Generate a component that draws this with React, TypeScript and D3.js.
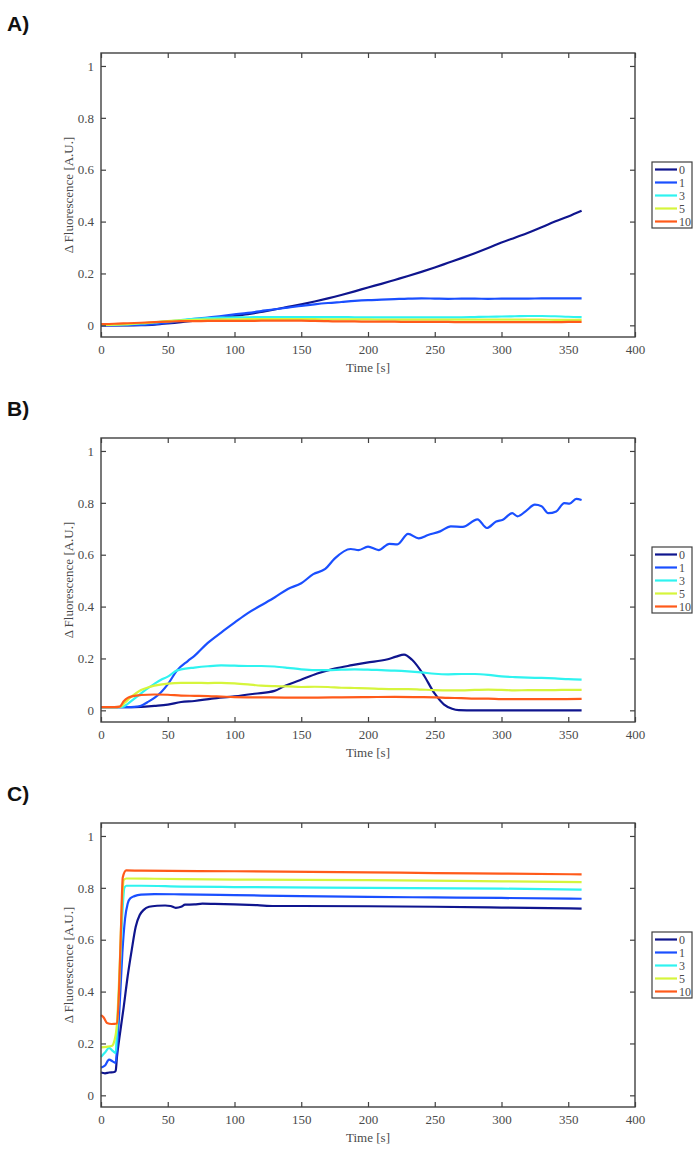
import React, { useRef, useEffect } from 'react';
import * as d3 from 'd3';

type Pt = [number, number];

// legend keys and colours (jet-like)
const seriesNames = ['0', '1', '3', '5', '10'];
const seriesColors = ['#0f158e', '#1a4fff', '#2ff3f0', '#d6f53c', '#ff5a1a'];

const panelLabels = ['A)', 'B)', 'C)'];
const xTicks = [0, 50, 100, 150, 200, 250, 300, 350, 400];
const yTicks = [0, 0.2, 0.4, 0.6, 0.8, 1];

// panel A, sampled every 10 s
const tA = d3.range(0, 361, 10);
const a0 = [0.000,0.000,0.000,0.001,0.003,0.007,0.012,0.018,0.024,0.030,0.036,0.043,0.052,0.061,0.071,0.081,0.092,0.104,0.117,0.131,0.146,0.160,0.175,0.190,0.206,0.223,0.241,0.259,0.278,0.298,0.319,0.338,0.357,0.378,0.400,0.420,0.442];
const a1 = [0,0,0.001,0.002,0.005,0.010,0.018,0.025,0.030,0.036,0.042,0.048,0.055,0.062,0.068,0.075,0.081,0.086,0.090,0.094,0.097,0.099,0.101,0.103,0.104,0.103,0.102,0.103,0.103,0.102,0.103,0.103,0.103,0.104,0.104,0.104,0.104];
const a3 = [0.002,0.002,0.004,0.007,0.011,0.015,0.020,0.025,0.028,0.030,0.031,0.031,0.032,0.032,0.032,0.032,0.032,0.032,0.032,0.031,0.031,0.031,0.031,0.031,0.031,0.031,0.031,0.031,0.032,0.033,0.034,0.035,0.036,0.036,0.035,0.033,0.032];
const a5 = [0.002,0.003,0.005,0.008,0.012,0.016,0.019,0.021,0.022,0.023,0.023,0.024,0.024,0.024,0.024,0.024,0.024,0.023,0.023,0.023,0.023,0.022,0.022,0.022,0.022,0.022,0.022,0.022,0.022,0.022,0.022,0.022,0.022,0.022,0.021,0.021,0.021];
const a10 = [0.005,0.006,0.008,0.010,0.012,0.014,0.016,0.016,0.017,0.017,0.017,0.017,0.018,0.018,0.018,0.018,0.017,0.016,0.015,0.015,0.014,0.014,0.014,0.013,0.013,0.013,0.013,0.012,0.012,0.012,0.012,0.012,0.012,0.012,0.012,0.013,0.013];

// panel B, [time, value]
const b0: Pt[] = [[0,0.012],[10,0.012],[20,0.012],[30,0.013],[40,0.017],[50,0.022],[60,0.032],[70,0.036],[83,0.045],[100,0.054],[115,0.064],[130,0.075],[138,0.095],[149,0.116],[162,0.142],[175,0.161],[188,0.174],[199,0.184],[214,0.196],[221,0.207],[227,0.215],[233,0.195],[241,0.142],[250,0.064],[257,0.022],[263,0.006],[268,0.001],[280,0],[300,0],[330,0],[360,0]];
const b1: Pt[] = [[0,0.012],[10,0.012],[20,0.012],[25,0.013],[30,0.018],[35,0.032],[40,0.048],[45,0.07],[50,0.1],[57,0.154],[65,0.19],[70,0.21],[80,0.26],[90,0.3],[100,0.338],[110,0.375],[120,0.405],[130,0.435],[140,0.468],[150,0.49],[159,0.525],[168,0.545],[175,0.585],[187,0.622],[193,0.618],[200,0.631],[208,0.618],[216,0.642],[222,0.64],[230,0.68],[238,0.663],[245,0.676],[254,0.69],[262,0.709],[271,0.707],[282,0.736],[289,0.703],[296,0.728],[301,0.735],[308,0.76],[312,0.748],[318,0.767],[325,0.793],[330,0.787],[335,0.76],[341,0.767],[347,0.799],[351,0.797],[356,0.815],[360,0.811]];
const b3: Pt[] = [[0,0.012],[10,0.012],[16,0.013],[20,0.025],[25,0.045],[30,0.065],[35,0.085],[40,0.102],[45,0.118],[50,0.13],[57,0.154],[60,0.158],[70,0.165],[80,0.17],[90,0.173],[100,0.172],[110,0.171],[120,0.171],[130,0.169],[140,0.164],[150,0.158],[160,0.155],[170,0.155],[180,0.157],[190,0.158],[200,0.157],[210,0.155],[220,0.153],[230,0.15],[240,0.146],[250,0.141],[260,0.139],[270,0.14],[280,0.14],[290,0.137],[300,0.131],[310,0.128],[320,0.126],[330,0.125],[340,0.123],[350,0.12],[360,0.118]];
const b5: Pt[] = [[0,0.012],[10,0.012],[14,0.013],[18,0.03],[22,0.05],[26,0.065],[30,0.078],[35,0.088],[40,0.095],[50,0.103],[60,0.106],[70,0.106],[80,0.105],[90,0.106],[100,0.104],[110,0.1],[120,0.095],[130,0.093],[140,0.092],[150,0.09],[160,0.091],[170,0.09],[180,0.087],[190,0.086],[200,0.085],[210,0.083],[220,0.082],[230,0.082],[240,0.08],[250,0.078],[260,0.077],[270,0.077],[280,0.079],[290,0.08],[300,0.079],[310,0.077],[320,0.078],[330,0.078],[340,0.078],[350,0.079],[360,0.079]];
const b10: Pt[] = [[0,0.012],[10,0.012],[14,0.014],[17,0.035],[20,0.048],[24,0.055],[30,0.059],[40,0.061],[50,0.06],[60,0.057],[70,0.056],[80,0.055],[90,0.053],[100,0.051],[120,0.05],[140,0.049],[160,0.049],[180,0.05],[200,0.051],[220,0.052],[240,0.051],[250,0.05],[260,0.048],[270,0.047],[280,0.045],[290,0.045],[300,0.043],[320,0.043],[340,0.043],[360,0.044]];

// panel C, [time, value]
const c0: Pt[] = [[0,0.088],[3,0.085],[6,0.088],[10,0.09],[11,0.095],[12,0.15],[14,0.23],[17,0.34],[20,0.46],[23,0.56],[26,0.65],[29,0.695],[32,0.715],[36,0.727],[42,0.731],[48,0.732],[52,0.73],[56,0.723],[60,0.727],[63,0.735],[70,0.736],[76,0.739],[85,0.738],[100,0.736],[117,0.733],[130,0.73],[150,0.73],[200,0.729],[250,0.727],[300,0.724],[360,0.72]];
const c1: Pt[] = [[0,0.107],[3,0.115],[6,0.138],[9,0.13],[11,0.125],[12,0.18],[14,0.35],[16,0.55],[18,0.68],[20,0.74],[22,0.76],[25,0.768],[30,0.774],[40,0.776],[60,0.775],[100,0.772],[150,0.768],[200,0.765],[250,0.763],[300,0.761],[360,0.758]];
const c3: Pt[] = [[0,0.148],[3,0.165],[6,0.183],[9,0.17],[11,0.163],[12,0.25],[14,0.45],[16,0.7],[17.5,0.8],[19,0.808],[30,0.808],[60,0.805],[100,0.803],[200,0.8],[300,0.797],[360,0.793]];
const c5: Pt[] = [[0,0.185],[4,0.187],[8,0.19],[10,0.21],[12,0.28],[14,0.5],[16,0.77],[17,0.83],[19,0.836],[40,0.835],[100,0.832],[200,0.83],[300,0.825],[360,0.822]];
const c10: Pt[] = [[0,0.309],[2,0.3],[4.5,0.279],[8,0.275],[12,0.277],[13.5,0.4],[15,0.65],[16.3,0.84],[18.9,0.867],[30,0.866],[100,0.864],[200,0.86],[250,0.857],[300,0.855],[360,0.852]];

const zipA = (vals: number[]): Pt[] => vals.map((v, i) => [tA[i], v]);

const panels: Pt[][][] = [
  [a0, a1, a3, a5, a10].map(zipA),
  [b0, b1, b3, b5, b10],
  [c0, c1, c3, c5, c10],
];

function App() {
  const svgRef = useRef<SVGSVGElement>(null);

  useEffect(() => {
    const svg = d3.select(svgRef.current);
    svg.selectAll('*').remove();

    const left = 101, right = 635, plotH = 284, step = 385, firstTop = 53;
    const axisColor = '#404040';
    const textColor = '#4a4a4a';
    const serif = "'Liberation Serif', 'Times New Roman', serif";

    const x = d3.scaleLinear().domain([0, 400]).range([left, right]);

    panels.forEach((series, p) => {
      const top = firstTop + p * step;
      const bottom = top + plotH;
      const y = d3.scaleLinear().domain([-0.045, 1.05]).range([bottom, top]);
      const g = svg.append('g');

      // panel letter
      g.append('text')
        .attr('x', 7)
        .attr('y', top - 22)
        .style('font-family', "'Liberation Sans', Arial, sans-serif")
        .attr('font-weight', 'bold')
        .attr('font-size', 21)
        .attr('fill', '#111')
        .text(panelLabels[p]);

      // lines
      const line = d3.line<Pt>()
        .x(d => x(d[0]))
        .y(d => y(d[1]))
        .curve(d3.curveMonotoneX);

      series.forEach((s, i) => {
        g.append('path')
          .datum(s)
          .attr('d', line)
          .attr('fill', 'none')
          .attr('stroke', seriesColors[i])
          .attr('stroke-width', 2.2)
          .attr('stroke-linejoin', 'round');
      });

      // axes with inward ticks on all sides
      const bottomAxis = d3.axisBottom(x).tickValues(xTicks).tickSizeInner(-5).tickSizeOuter(0).tickPadding(8);
      const topAxis = d3.axisTop(x).tickValues(xTicks).tickSizeInner(-5).tickSizeOuter(0).tickFormat(() => '');
      const leftAxis = d3.axisLeft(y).tickValues(yTicks).tickSizeInner(-5).tickSizeOuter(0).tickPadding(7).tickFormat(d3.format('~g'));
      const rightAxis = d3.axisRight(y).tickValues(yTicks).tickSizeInner(-5).tickSizeOuter(0).tickFormat(() => '');

      const styleAxis = (a: d3.Selection<SVGGElement, unknown, null, undefined>) => {
        a.selectAll('path').remove();
        a.selectAll('line').attr('stroke', axisColor).attr('stroke-width', 1.2);
        a.selectAll('text').attr('fill', textColor).style('font-family', serif).style('font-size', '13px');
      };

      g.append('g').attr('transform', `translate(0,${bottom})`).call(bottomAxis).call(styleAxis);
      g.append('g').attr('transform', `translate(0,${top})`).call(topAxis).call(styleAxis);
      g.append('g').attr('transform', `translate(${left},0)`).call(leftAxis).call(styleAxis);
      g.append('g').attr('transform', `translate(${right},0)`).call(rightAxis).call(styleAxis);

      g.append('rect')
        .attr('x', left)
        .attr('y', top)
        .attr('width', right - left)
        .attr('height', plotH)
        .attr('fill', 'none')
        .attr('stroke', axisColor)
        .attr('stroke-width', 1.4);

      // axis titles
      g.append('text')
        .attr('x', (left + right) / 2)
        .attr('y', bottom + 35)
        .attr('text-anchor', 'middle')
        .style('font-family', serif)
        .style('font-size', '13px')
        .attr('fill', textColor)
        .text('Time [s]');

      g.append('text')
        .attr('transform', `translate(73,${(top + bottom) / 2}) rotate(-90)`)
        .attr('text-anchor', 'middle')
        .style('font-family', serif)
        .style('font-size', '13px')
        .attr('fill', textColor)
        .text('Δ Fluorescence [A.U.]');

      // legend
      const lgTop = top + 109;
      const leg = g.append('g');
      leg.append('rect')
        .attr('x', 652)
        .attr('y', lgTop)
        .attr('width', 40)
        .attr('height', 66)
        .attr('fill', '#fff')
        .attr('stroke', axisColor)
        .attr('stroke-width', 1.2);
      seriesNames.forEach((name, i) => {
        const yy = lgTop + 7.5 + i * 13;
        leg.append('line')
          .attr('x1', 655).attr('x2', 677)
          .attr('y1', yy).attr('y2', yy)
          .attr('stroke', seriesColors[i])
          .attr('stroke-width', 2.2);
        leg.append('text')
          .attr('x', 679)
          .attr('y', yy + 4)
          .style('font-family', serif)
          .style('font-size', '12px')
          .attr('fill', textColor)
          .text(name);
      });
    });
  }, []);

  return (
    <svg
      ref={svgRef}
      width={700}
      height={1162}
      style={{ position: 'absolute', left: 0, top: 0, background: '#fff' }}
    />
  );
}

export default App;
